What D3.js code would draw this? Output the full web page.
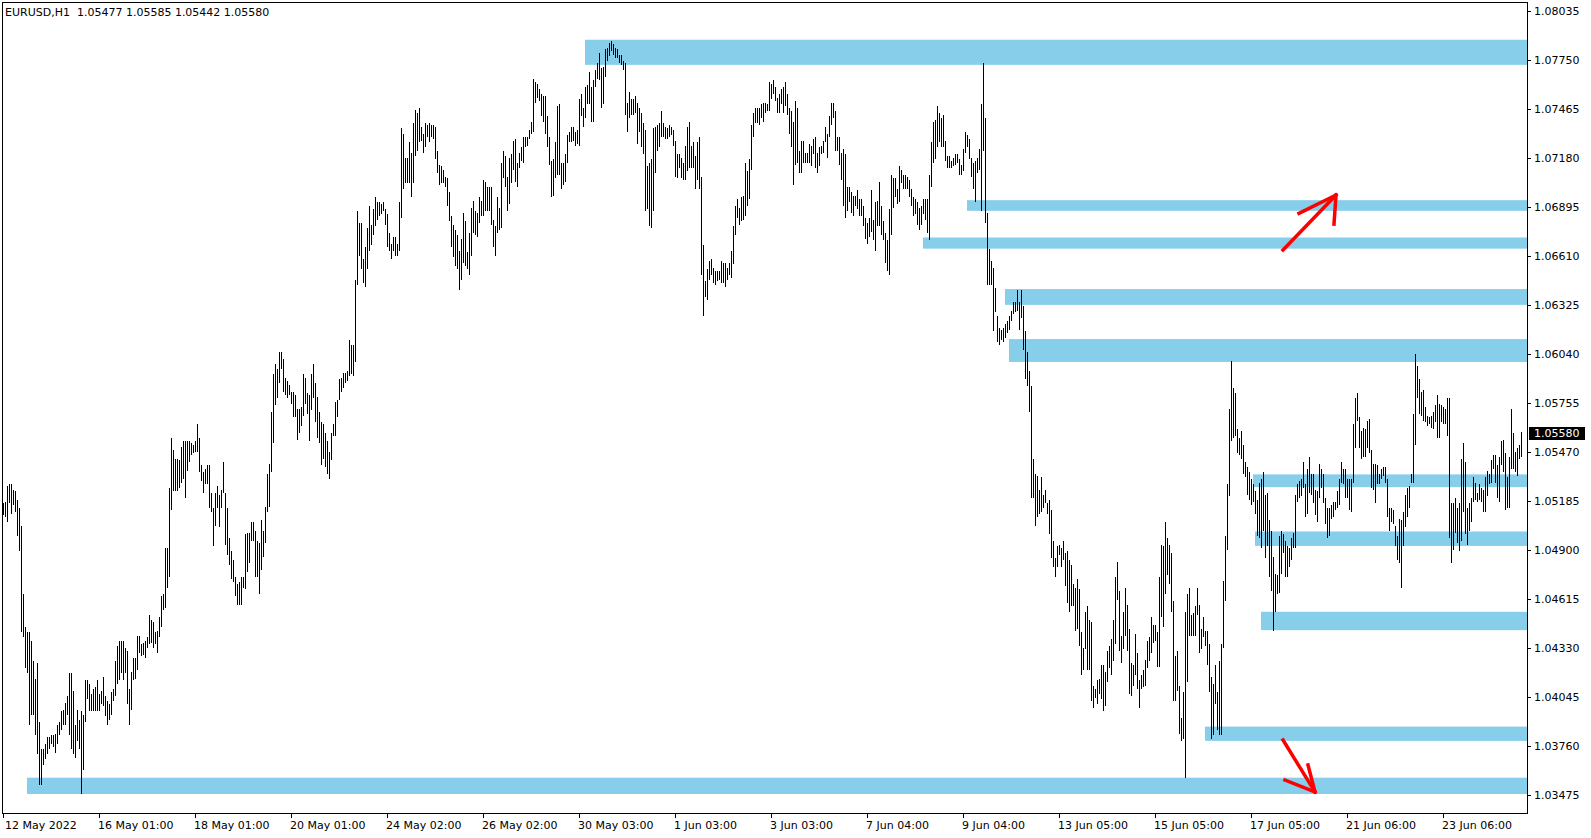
<!DOCTYPE html>
<html><head><meta charset="utf-8">
<script src="https://cdn.jsdelivr.net/npm/d3@7"></script>
<style>
body{margin:0;background:#fff;}
svg{display:block;}
text{font-family:"DejaVu Sans",sans-serif;font-size:11px;white-space:pre;}
</style>
</head><body><svg id="c" width="1591" height="838"></svg>
<script>
const symbol = "EURUSD,H1";
const lastOHLC = [1.05477, 1.05585, 1.05442, 1.05580];
const priceTicks = [1.08035,1.07750,1.07465,1.07180,1.06895,1.06610,1.06325,1.06040,1.05755,1.05470,1.05185,1.04900,1.04615,1.04330,1.04045,1.03760,1.03475];
const dateLabels = ["12 May 2022","16 May 01:00","18 May 01:00","20 May 01:00","24 May 02:00","26 May 02:00","30 May 03:00","1 Jun 03:00","3 Jun 03:00","7 Jun 04:00","9 Jun 04:00","13 Jun 05:00","15 Jun 05:00","17 Jun 05:00","21 Jun 06:00","23 Jun 06:00"];
const barsPerDateLabel = 48;

const highs = [
1.0517,1.0518,1.0527,1.0528,1.0528,1.0525,1.0524,1.0519,1.0514,1.0504,
1.0464,1.0445,1.0442,1.0442,1.0437,1.0425,1.0415,1.0424,1.0390,1.0374,
1.0374,1.0377,1.0381,1.0381,1.0382,1.0382,1.0383,1.0388,1.0390,1.0396,
1.0397,1.0401,1.0405,1.0418,1.0418,1.0408,1.0388,1.0397,1.0391,1.0396,
1.0394,1.0414,1.0414,1.0412,1.0406,1.0409,1.0410,1.0414,1.0406,1.0408,
1.0416,1.0405,1.0402,1.0400,1.0407,1.0409,1.0425,1.0434,1.0437,1.0437,
1.0437,1.0433,1.0431,1.0409,1.0419,1.0427,1.0427,1.0440,1.0440,1.0435,
1.0436,1.0437,1.0439,1.0452,1.0449,1.0448,1.0442,1.0443,1.0451,
1.0463,1.0464,1.0491,1.0491,1.0526,1.0555,1.0548,1.0543,1.0543,1.0542,
1.0550,1.0553,1.0553,1.0553,1.0553,1.0552,1.0551,1.0553,1.0563,1.0555,
1.0539,1.0535,1.0537,1.0539,1.0539,1.0523,1.0514,1.0523,1.0527,1.0522,
1.0525,1.0541,1.0523,1.0514,1.0497,1.0489,1.0484,1.0474,1.0470,1.0471,
1.0474,1.0474,1.0499,1.0500,1.0500,1.0506,1.0506,1.0501,1.0495,1.0494,
1.0507,1.0501,1.0515,1.0534,1.0540,1.0570,1.0592,1.0598,1.0595,1.0605,
1.0605,1.0601,1.0590,1.0588,1.0586,1.0582,1.0582,1.0580,1.0572,1.0572,
1.0573,1.0592,1.0590,1.0581,1.0580,
1.0592,1.0598,1.0587,1.0579,1.0570,1.0564,1.0563,1.0558,1.0553,1.0547,
1.0558,1.0563,1.0576,1.0577,1.0589,1.0590,1.0593,1.0593,1.0594,1.0612,
1.0609,1.0609,1.0647,1.0687,1.0680,1.0680,1.0659,1.0666,1.0677,1.0690,
1.0679,1.0688,1.0695,1.0692,1.0692,1.0691,1.0692,1.0688,1.0685,1.0674,
1.0668,1.0672,1.0672,1.0668,1.0692,1.0735,1.0732,1.0718,1.0718,1.0727,
1.0721,1.0738,1.0746,1.0744,1.0747,1.0736,1.0732,1.0738,1.0737,1.0738,
1.0737,1.0737,1.0736,1.0722,1.0714,1.0713,1.0711,1.0707,1.0706,1.0698,
1.0684,1.0679,1.0676,1.0673,1.0664,
1.0671,1.0686,1.0681,1.0663,1.0674,1.0689,1.0693,1.0687,1.0686,1.0695,
1.0693,1.0705,1.0704,1.0701,1.0701,1.0701,1.0682,1.0678,1.0695,1.0689,
1.0715,1.0722,1.0719,1.0707,1.0718,1.0720,1.0728,1.0729,1.0715,1.0721,
1.0724,1.0730,1.0730,1.0730,1.0734,1.0739,1.0764,1.0762,1.0761,1.0758,
1.0755,1.0754,1.0754,1.0742,1.0730,1.0716,1.0717,1.0727,1.0748,1.0749,
1.0715,1.0715,1.0720,1.0731,1.0733,1.0736,1.0736,1.0733,1.0734,1.0752,
1.0755,1.0747,1.0759,1.0760,1.0768,1.0759,1.0763,1.0769,1.0773,1.0779,
1.0770,1.0771,1.0781,1.0782,1.0785,
1.0786,1.0784,1.0782,1.0781,1.0778,1.0778,1.0774,1.0773,1.0750,1.0756,
1.0752,1.0752,1.0754,1.0750,1.0747,1.0744,1.0738,1.0734,1.0713,1.0715,
1.0717,1.0735,1.0736,1.0737,1.0738,1.0745,1.0738,1.0736,1.0735,1.0737,
1.0736,1.0734,1.0728,1.0720,1.0720,1.0718,1.0715,1.0725,1.0736,1.0739,
1.0725,1.0727,1.0719,1.0727,1.0730,1.0707,1.0667,1.0646,1.0653,1.0658,
1.0659,1.0654,1.0652,1.0652,1.0652,1.0658,1.0657,1.0657,1.0654,1.0657,
1.0664,1.0678,1.0690,1.0694,1.0689,1.0695,1.0696,1.0715,1.0710,1.0717,
1.0737,1.0744,1.0747,1.0747,1.0747,
1.0749,1.0750,1.0750,1.0749,1.0762,1.0761,1.0763,1.0759,1.0753,1.0755,
1.0758,1.0759,1.0762,1.0755,1.0747,1.0745,1.0739,1.0751,1.0747,1.0722,
1.0728,1.0728,1.0721,1.0721,1.0726,1.0725,1.0729,1.0730,1.0721,1.0724,
1.0725,1.0728,1.0736,1.0732,1.0742,1.0750,1.0750,1.0745,1.0730,1.0730,
1.0721,1.0723,1.0720,1.0701,1.0701,1.0698,1.0696,1.0696,1.0699,1.0694,
1.0694,1.0690,1.0683,1.0680,1.0683,1.0699,1.0682,1.0692,1.0693,1.0704,
1.0690,1.0681,1.0674,1.0670,1.0688,1.0708,1.0706,1.0706,1.0700,1.0713,
1.0711,1.0708,1.0708,1.0707,1.0705,
1.0700,1.0695,1.0694,1.0692,1.0689,1.0690,1.0694,1.0694,1.0694,1.0708,
1.0727,1.0739,1.0740,1.0748,1.0744,1.0741,1.0743,1.0728,1.0719,1.0719,
1.0716,1.0718,1.0720,1.0720,1.0717,1.0714,1.0723,1.0733,1.0731,1.0729,
1.0718,1.0715,1.0716,1.0718,1.0723,1.0749,1.0773,1.0741,1.0686,1.0665,
1.0658,1.0654,1.0642,1.0626,1.0619,1.0618,1.0619,1.0621,1.0623,1.0626,
1.0629,1.0634,1.0634,1.0641,1.0634,1.0641,1.0632,1.0617,1.0605,1.0594,
1.0585,1.0543,1.0534,1.0533,1.0525,1.0532,1.0522,1.0525,1.0517,1.0519,
1.0513,1.0495,1.0485,1.0492,1.0493,
1.0491,1.0495,1.0488,1.0489,1.0484,1.0481,1.0470,1.0468,1.0473,1.0467,
1.0442,1.0433,1.0454,1.0457,1.0449,1.0448,1.0411,1.0409,1.0414,1.0415,
1.0423,1.0423,1.0419,1.0431,1.0434,1.0438,1.0449,1.0474,1.0483,1.0466,
1.0440,1.0454,1.0468,1.0458,1.0444,1.0424,1.0423,1.0441,1.0430,1.0414,
1.0417,1.0420,1.0426,1.0437,1.0439,1.0451,1.0446,1.0446,1.0442,1.0474,
1.0493,1.0492,1.0506,1.0497,1.0493,1.0488,1.0460,1.0428,1.0431,1.0411,
1.0392,1.0407,1.0454,1.0464,1.0468,1.0452,1.0453,1.0457,1.0468,1.0458,
1.0444,1.0451,1.0443,1.0443,1.0435,
1.0416,1.0412,1.0423,1.0407,1.0425,1.0435,1.0472,1.0498,1.0528,1.0572,
1.0600,1.0584,1.0581,1.0560,1.0555,1.0559,1.0551,1.0541,1.0538,1.0535,
1.0531,1.0528,1.0524,1.0519,1.0529,1.0531,1.0535,1.0522,1.0523,1.0507,
1.0501,1.0486,1.0476,1.0475,1.0498,1.0501,1.0499,1.0495,1.0492,1.0491,
1.0497,1.0500,1.0522,1.0528,1.0530,1.0531,1.0541,1.0528,1.0537,1.0544,
1.0534,1.0534,1.0525,1.0524,1.0540,1.0537,1.0534,1.0520,1.0514,1.0514,
1.0516,1.0518,1.0518,1.0524,1.0531,1.0541,1.0537,1.0537,1.0531,1.0531,
1.0531,1.0563,1.0578,1.0581,1.0567,
1.0559,1.0561,1.0560,1.0565,1.0566,1.0548,1.0540,1.0540,1.0539,1.0534,
1.0537,1.0538,1.0538,1.0531,1.0514,1.0514,1.0513,1.0504,1.0498,1.0508,
1.0507,1.0512,1.0522,1.0526,1.0527,1.0534,1.0569,1.0604,1.0597,1.0589,
1.0582,1.0583,1.0573,1.0568,1.0567,1.0568,1.0570,1.0574,1.0580,1.0575,
1.0574,1.0573,1.0572,1.0578,1.0578,1.0517,1.0517,1.0520,1.0514,1.0517,
1.0543,1.0552,1.0541,1.0514,1.0517,1.0520,1.0532,1.0529,1.0523,1.0528,
1.0526,1.0525,1.0532,1.0536,1.0534,1.0542,1.0545,1.0545,1.0539,1.0544,
1.0553,1.0554,1.0546,1.0532,1.0544,
1.0572,1.0558,1.0547,1.0549,1.0551,1.05585
];

const lows = [
1.0510,1.0509,1.0506,1.0517,1.0511,1.0516,1.0512,1.0498,1.0489,1.0442,
1.0439,1.0421,1.0418,1.0388,1.0394,1.0394,1.0382,1.0371,1.0353,1.0353,
1.0365,1.0368,1.0371,1.0374,1.0377,1.0375,1.0372,1.0377,1.0382,1.0385,
1.0388,1.0388,1.0394,1.0382,1.0374,1.0371,1.0369,1.0379,1.0374,1.0348,
1.0362,1.0390,1.0403,1.0396,1.0396,1.0396,1.0396,1.0396,1.0396,1.0400,
1.0399,1.0393,1.0388,1.0391,1.0394,1.0402,1.0405,1.0412,1.0414,1.0418,
1.0414,1.0418,1.0400,1.0388,1.0397,1.0414,1.0415,1.0420,1.0430,1.0428,
1.0429,1.0427,1.0433,1.0435,1.0436,1.0433,1.0435,1.0430,1.0439,
1.0445,1.0455,1.0456,1.0468,1.0474,1.0513,1.0524,1.0524,1.0524,1.0526,
1.0529,1.0531,1.0520,1.0536,1.0541,1.0545,1.0546,1.0547,1.0547,1.0535,
1.0530,1.0523,1.0528,1.0528,1.0514,1.0512,1.0492,1.0504,1.0514,1.0503,
1.0514,1.0523,1.0493,1.0487,1.0481,1.0473,1.0471,1.0463,1.0458,1.0458,
1.0458,1.0468,1.0467,1.0477,1.0482,1.0495,1.0495,1.0474,1.0474,1.0464,
1.0478,1.0486,1.0494,1.0512,1.0515,1.0535,1.0552,1.0574,1.0578,1.0587,
1.0595,1.0582,1.0580,1.0578,1.0580,1.0575,1.0567,1.0567,1.0554,1.0558,
1.0562,1.0568,1.0575,1.0569,1.0553,
1.0571,1.0578,1.0564,1.0555,1.0552,1.0539,1.0543,1.0538,1.0534,1.0531,
1.0542,1.0556,1.0556,1.0567,1.0577,1.0582,1.0584,1.0587,1.0588,1.0591,
1.0592,1.0591,1.0599,1.0644,1.0661,1.0653,1.0645,1.0643,1.0653,1.0664,
1.0667,1.0673,1.0678,1.0682,1.0684,1.0685,1.0687,1.0679,1.0666,1.0664,
1.0659,1.0664,1.0661,1.0661,1.0664,1.0683,1.0700,1.0703,1.0703,1.0703,
1.0695,1.0703,1.0719,1.0722,1.0727,1.0728,1.0721,1.0724,1.0730,1.0727,
1.0730,1.0729,1.0717,1.0709,1.0702,1.0703,1.0703,1.0701,1.0690,1.0681,
1.0666,1.0660,1.0655,1.0653,1.0641,
1.0647,1.0657,1.0655,1.0653,1.0650,1.0661,1.0674,1.0673,1.0672,1.0680,
1.0684,1.0684,1.0687,1.0687,1.0687,1.0679,1.0666,1.0661,1.0674,1.0676,
1.0677,1.0706,1.0701,1.0687,1.0691,1.0703,1.0711,1.0704,1.0701,1.0712,
1.0716,1.0715,1.0724,1.0725,1.0729,1.0732,1.0733,1.0750,1.0753,1.0751,
1.0742,1.0739,1.0732,1.0724,1.0714,1.0695,1.0696,1.0706,1.0708,1.0708,
1.0700,1.0702,1.0704,1.0715,1.0727,1.0727,1.0728,1.0725,1.0726,1.0725,
1.0742,1.0736,1.0741,1.0749,1.0749,1.0739,1.0739,1.0759,1.0764,1.0763,
1.0747,1.0749,1.0765,1.0774,1.0777,
1.0780,1.0778,1.0776,1.0776,1.0773,1.0772,1.0769,1.0743,1.0733,1.0741,
1.0743,1.0743,1.0744,1.0726,1.0733,1.0724,1.0720,1.0687,1.0688,1.0678,
1.0677,1.0687,1.0709,1.0722,1.0724,1.0730,1.0730,1.0729,1.0729,1.0730,
1.0731,1.0725,1.0707,1.0706,1.0712,1.0706,1.0705,1.0705,1.0710,1.0712,
1.0712,1.0712,1.0700,1.0705,1.0700,1.0650,1.0626,1.0637,1.0635,1.0647,
1.0650,1.0645,1.0644,1.0646,1.0647,1.0645,1.0645,1.0643,1.0647,1.0650,
1.0648,1.0656,1.0673,1.0683,1.0679,1.0681,1.0682,1.0684,1.0690,1.0694,
1.0711,1.0730,1.0738,1.0738,1.0737,
1.0741,1.0739,1.0744,1.0745,1.0745,1.0752,1.0755,1.0751,1.0744,1.0744,
1.0749,1.0744,1.0748,1.0743,1.0732,1.0724,1.0702,1.0714,1.0715,1.0709,
1.0709,1.0715,1.0715,1.0715,1.0715,1.0713,1.0720,1.0712,1.0709,1.0713,
1.0720,1.0721,1.0727,1.0718,1.0730,1.0737,1.0741,1.0722,1.0722,1.0714,
1.0705,1.0690,1.0683,1.0687,1.0692,1.0686,1.0684,1.0690,1.0688,1.0684,
1.0684,1.0678,1.0671,1.0668,1.0672,1.0675,1.0670,1.0664,1.0678,1.0678,
1.0673,1.0670,1.0657,1.0652,1.0650,1.0673,1.0689,1.0695,1.0691,1.0692,
1.0703,1.0700,1.0700,1.0700,1.0695,
1.0690,1.0684,1.0685,1.0679,1.0676,1.0679,1.0685,1.0682,1.0674,1.0670,
1.0701,1.0715,1.0717,1.0724,1.0727,1.0724,1.0724,1.0716,1.0712,1.0712,
1.0712,1.0713,1.0714,1.0715,1.0708,1.0708,1.0710,1.0721,1.0724,1.0717,
1.0707,1.0700,1.0692,1.0709,1.0711,1.0687,1.0722,1.0680,1.0644,1.0644,
1.0644,1.0617,1.0628,1.0611,1.0609,1.0612,1.0611,1.0613,1.0616,1.0618,
1.0623,1.0627,1.0628,1.0629,1.0618,1.0625,1.0606,1.0589,1.0585,1.0570,
1.0520,1.0520,1.0504,1.0509,1.0511,1.0512,1.0514,1.0517,1.0511,1.0499,
1.0485,1.0480,1.0474,1.0480,1.0487,
1.0480,1.0484,1.0469,1.0459,1.0454,1.0457,1.0457,1.0443,1.0444,1.0434,
1.0417,1.0420,1.0432,1.0420,1.0420,1.0402,1.0398,1.0404,1.0400,1.0406,
1.0403,1.0396,1.0399,1.0413,1.0421,1.0417,1.0425,1.0435,1.0461,1.0431,
1.0424,1.0432,1.0440,1.0431,1.0406,1.0405,1.0411,1.0417,1.0409,1.0398,
1.0409,1.0410,1.0411,1.0421,1.0425,1.0430,1.0436,1.0437,1.0422,1.0422,
1.0451,1.0445,1.0464,1.0475,1.0470,1.0454,1.0402,1.0402,1.0408,1.0383,
1.0379,1.0380,1.0357,1.0413,1.0440,1.0440,1.0440,1.0440,1.0452,1.0430,
1.0432,1.0439,1.0434,1.0423,1.0407,
1.0380,1.0382,1.0400,1.0385,1.0382,1.0382,1.0433,1.0460,1.0490,1.0521,
1.0553,1.0555,1.0556,1.0546,1.0545,1.0543,1.0534,1.0532,1.0522,1.0519,
1.0516,1.0518,1.0511,1.0498,1.0497,1.0491,1.0501,1.0485,1.0492,1.0474,
1.0466,1.0443,1.0454,1.0464,1.0465,1.0476,1.0488,1.0474,1.0474,1.0480,
1.0484,1.0491,1.0491,1.0518,1.0520,1.0521,1.0526,1.0509,1.0511,1.0523,
1.0522,1.0517,1.0510,1.0506,1.0520,1.0526,1.0517,1.0505,1.0497,1.0498,
1.0508,1.0509,1.0513,1.0514,1.0516,1.0529,1.0528,1.0520,1.0520,1.0513,
1.0512,1.0529,1.0549,1.0565,1.0549,
1.0543,1.0544,1.0544,1.0549,1.0546,1.0526,1.0525,1.0517,1.0528,1.0528,
1.0531,1.0533,1.0529,1.0509,1.0501,1.0506,1.0505,1.0492,1.0484,1.0482,
1.0468,1.0492,1.0503,1.0509,1.0514,1.0529,1.0529,1.0551,1.0578,1.0569,
1.0568,1.0565,1.0564,1.0562,1.0563,1.0561,1.0560,1.0564,1.0555,1.0555,
1.0564,1.0563,1.0563,1.0556,1.0497,1.0482,1.0490,1.0500,1.0494,1.0489,
1.0495,1.0512,1.0499,1.0493,1.0501,1.0506,1.0518,1.0519,1.0518,1.0519,
1.0518,1.0512,1.0512,1.0521,1.0528,1.0529,1.0537,1.0529,1.0520,1.0518,
1.0539,1.0535,1.0513,1.0514,1.0514,
1.0537,1.0537,1.0535,1.0533,1.0543,1.05442
];

// support / resistance zones: starting bar, upper and lower price
const zoneStartBar = [291, 482, 460, 501, 503, 625, 626, 629, 601, 12];
const zoneTop    = [1.07866, 1.06933, 1.06716, 1.06416, 1.06125, 1.05338, 1.05006, 1.04539, 1.03871, 1.03574];
const zoneBottom = [1.07720, 1.06871, 1.06651, 1.06324, 1.05992, 1.05264, 1.04922, 1.04432, 1.03788, 1.03479];

// hand-drawn arrows: [bar, price] of tail, tip, barb 1, barb 2
const arrowUp   = [[640, 1.06643], [666.5, 1.06963], [648, 1.06856], [665.5, 1.06794]];
const arrowDown = [[640, 1.03793], [656, 1.03491], [641, 1.03560], [652.5, 1.03648]];

const svg = d3.select("#c");
const plot = {left: 2, top: 2, right: 1527, bottom: 813};
const N = highs.length;

const x = d3.scaleLinear().domain([0, N - 1]).range([3, 3 + 2 * (N - 1)]);
const y = d3.scaleLinear().domain([1.03475, 1.08035]).range([794.7, 10.7]);

svg.append("rect").attr("width", 1591).attr("height", 838).attr("fill", "#fff");

// zones
svg.append("g").selectAll("rect").data(zoneStartBar).join("rect")
  .attr("x", d => x(d))
  .attr("y", (d, i) => y(zoneTop[i]))
  .attr("width", d => plot.right - x(d))
  .attr("height", (d, i) => y(zoneBottom[i]) - y(zoneTop[i]))
  .attr("fill", "#87CEEB");

// bars
svg.append("g").attr("shape-rendering", "crispEdges").selectAll("rect").data(highs).join("rect")
  .attr("x", (d, i) => Math.round(x(i)))
  .attr("y", d => Math.round(y(d)))
  .attr("width", 1)
  .attr("height", (d, i) => Math.max(1, Math.round(y(lows[i])) - Math.round(y(d))))
  .attr("fill", "#000");

// arrows
function drawArrow(a) {
  const g = svg.append("g").attr("stroke", "#ff0000").attr("stroke-width", 3.5)
    .attr("stroke-linecap", "square").attr("fill", "none");
  const p = a.map(d => [x(d[0]), y(d[1])]);
  g.append("line").attr("x1", p[0][0]).attr("y1", p[0][1]).attr("x2", p[1][0]).attr("y2", p[1][1]);
  g.append("line").attr("x1", p[2][0]).attr("y1", p[2][1]).attr("x2", p[1][0]).attr("y2", p[1][1]);
  g.append("line").attr("x1", p[3][0]).attr("y1", p[3][1]).attr("x2", p[1][0]).attr("y2", p[1][1]);
}
drawArrow(arrowUp);
drawArrow(arrowDown);

// frame
svg.append("rect").attr("x", plot.left + 0.5).attr("y", plot.top + 0.5)
  .attr("width", plot.right - plot.left).attr("height", plot.bottom - plot.top)
  .attr("fill", "none").attr("stroke", "#000").attr("shape-rendering", "crispEdges");

// price axis
const yAxis = svg.append("g");
yAxis.selectAll("line").data(priceTicks).join("line")
  .attr("x1", plot.right).attr("x2", plot.right + 4)
  .attr("y1", d => Math.round(y(d)) + 0.5).attr("y2", d => Math.round(y(d)) + 0.5)
  .attr("stroke", "#000");
yAxis.selectAll("text").data(priceTicks).join("text")
  .attr("x", plot.right + 7).attr("y", d => y(d)).attr("dy", "0.36em")
  .attr("fill", "#000").text(d => d.toFixed(5));

// current price label
const close = lastOHLC[3];
svg.append("rect").attr("x", plot.right + 2).attr("y", Math.round(y(close)) - 6)
  .attr("width", 56).attr("height", 13).attr("fill", "#000");
svg.append("text").attr("x", plot.right + 7).attr("y", y(close)).attr("dy", "0.36em")
  .attr("fill", "#fff").text(close.toFixed(5));

// time axis
const xAxis = svg.append("g");
xAxis.selectAll("line").data(dateLabels).join("line")
  .attr("x1", (d, i) => Math.round(x(i * barsPerDateLabel)) + 0.5)
  .attr("x2", (d, i) => Math.round(x(i * barsPerDateLabel)) + 0.5)
  .attr("y1", plot.bottom).attr("y2", plot.bottom + 5).attr("stroke", "#000");
xAxis.selectAll("text").data(dateLabels).join("text")
  .attr("x", (d, i) => x(i * barsPerDateLabel) + (i === 0 ? 2 : -1)).attr("y", 829)
  .attr("fill", "#000").text(d => d);

// header
svg.append("text").attr("x", 5).attr("y", 16).attr("fill", "#000")
  .text(symbol + "  " + lastOHLC.map(v => v.toFixed(5)).join(" "));
</script>
</body></html>
